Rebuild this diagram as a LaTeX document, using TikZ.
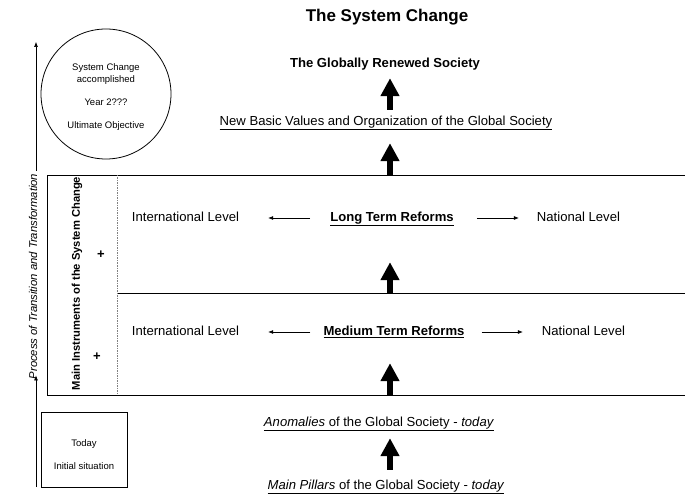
\documentclass[tikz,border=0pt]{standalone}
\usepackage{fontspec}
\setmainfont{Liberation Sans}
\usetikzlibrary{arrows.meta}

\tikzset{
  body/.style={font=\fontsize{13.1}{15}\selectfont, inner sep=0pt, text height=9.5pt, text depth=2.5pt},
  bodybold/.style={body, font=\bfseries\fontsize{13.1}{15}\selectfont},
  small/.style={font=\fontsize{9.5}{11.4}\selectfont, align=center},
  sidelabel/.style={rotate=90, inner sep=0pt},
  bigarrow/.style={line width=6pt, -{Triangle[width=18pt,length=18pt]}},
  levelarrow/.style={line width=0.6pt, -{Latex[length=5pt,width=4pt]}},
  frameline/.style={line width=0.8pt},
}

\begin{document}
\begin{tikzpicture}[x=1pt,y=-1pt]
\useasboundingbox (0,0) rectangle (685,494);

\coordinate (axis) at (390,0);

\node[font=\bfseries\fontsize{17}{20}\selectfont] (title) at (387,17) {The System Change};

% goal and the new values
\node[bodybold] (renewed) at (385,64) {The Globally Renewed Society};
\node[body] (newvalues) at (386,122) {\underline{New Basic Values and Organization of the Global Society}};
\node[circle, draw, frameline, minimum size=130pt, inner sep=0pt, small] (goal) at (106,94)
  {\rule{0pt}{13pt}System Change\\accomplished\\[11.6pt]Year 2???\\[11.6pt]Ultimate Objective};

% frame of the reforms
\coordinate (frameNW) at (47,175);
\coordinate (frameSE) at (686,395);
\coordinate (splitN) at (117,175);
\coordinate (splitS) at (117,395);
\coordinate (divW) at (117,293);
\draw[frameline] (frameSE |- frameNW) -- (frameNW) -- (frameNW |- frameSE) -- (frameSE);
\draw[frameline] (divW) -- (divW -| frameSE);
\draw[gray, dashed, line width=0.4pt, dash pattern=on 1.5pt off 1pt] (splitN) -- (splitS);

\node[sidelabel, font=\bfseries\fontsize{11.2}{13}\selectfont] (instr) at (77,283.5) {Main Instruments of the System Change};
\node[font=\bfseries\fontsize{13}{15}\selectfont] (plus1) at (101,255) {+};
\node[font=\bfseries\fontsize{13}{15}\selectfont] (plus2) at (97,357) {+};

% long term row
\node[body] (intl1) at (185.5,218) {International Level};
\node[bodybold] (longterm) at (392,218) {\underline{Long Term Reforms}};
\node[body] (natl1) at (578.5,218) {National Level};
\draw[levelarrow, shorten <=20pt, shorten >=29pt] (longterm.west) -- (intl1.east);
\draw[levelarrow, shorten <=23pt, shorten >=18pt] (longterm.east) -- (natl1.west);

% medium term row
\node[body] (intl2) at (185.5,332) {International Level};
\node[bodybold] (medium) at (394,332) {\underline{Medium Term Reforms}};
\node[body] (natl2) at (583.5,332) {National Level};
\draw[levelarrow, shorten <=13pt, shorten >=29pt] (medium.west) -- (intl2.east);
\draw[levelarrow, shorten <=17pt, shorten >=19pt] (medium.east) -- (natl2.west);

% today
\node[body] (anomalies) at (379,423) {\underline{\textit{Anomalies} of the Global Society - \textit{today}}};
\node[body] (pillars) at (386,486) {\underline{\textit{Main Pillars} of the Global Society - \textit{today}}};
\node[draw, frameline, minimum width=86pt, minimum height=75pt, small] (today) at (84,449.5)
  {\rule{0pt}{17pt}Today\\[11.6pt]Initial situation};

% big arrows upwards
\draw[bigarrow, shorten <=10pt, shorten >=9pt] (pillars.north -| axis) -- (anomalies.south -| axis);
\draw[bigarrow, shorten >=25pt] (frameSE -| axis) -- (medium.south -| axis);
\draw[bigarrow, shorten >=38pt] (divW -| axis) -- (longterm.south -| axis);
\draw[bigarrow, shorten >=15pt] (frameNW -| axis) -- (newvalues.south -| axis);
\draw[bigarrow, shorten <=6pt, shorten >=8pt] (newvalues.north -| axis) -- (renewed.south -| axis);

% time line on the left
\node[sidelabel, font=\itshape\fontsize{11.3}{13}\selectfont] (process) at (33,276.5) {Process of Transition and Transformation};
\coordinate (timeS) at (36,487);
\coordinate (timeN) at (36,42);
\draw[levelarrow, shorten >=-4pt] (timeS) -- (process.west -| timeS);
\draw[levelarrow, shorten <=3pt] (process.east -| timeN) -- (timeN);
\end{tikzpicture}
\end{document}
